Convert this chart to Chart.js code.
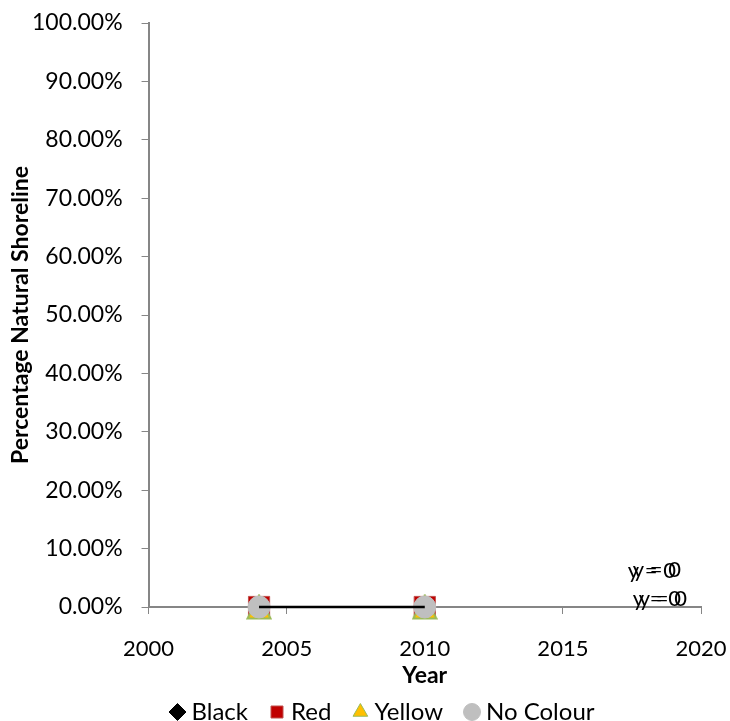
<!DOCTYPE html>
<html lang="en">
<head>
    <meta charset="UTF-8">
    <title>Percentage Natural Shoreline</title>
    <script src="https://cdn.jsdelivr.net/npm/chart.js"></script>
    <style>
        body {
            margin: 0;
            background-color: #ffffff;
        }
        #wrap {
            width: 730px;
            height: 721px;
        }
    </style>
</head>
<body>
    <div id="wrap">
        <canvas id="shoreChart" width="730" height="721"></canvas>
    </div>

    <script>
        // Dati
        const years = [2004, 2010];
        const black = [0, 0];
        const red = [0, 0];
        const yellow = [0, 0];
        const noColour = [0, 0];
        const seriesNames = ['Black', 'Red', 'Yellow', 'No Colour'];
        const trendLabels = ['y = 0', 'y = 0', 'y = 0', 'y = 0'];

        const FONT = 'Lato, "Liberation Sans", sans-serif';

        function toPoints(values) {
            return years.map((x, i) => ({ x: x, y: values[i] }));
        }

        // Triangolo centrato sul suo riquadro (come in Excel)
        const triImg = document.createElement('canvas');
        triImg.width = 26;
        triImg.height = 26;
        (function () {
            const c = triImg.getContext('2d');
            c.beginPath();
            c.moveTo(13, 1.5);
            c.lineTo(24.5, 24.5);
            c.lineTo(1.5, 24.5);
            c.closePath();
            c.fillStyle = '#FFC000';
            c.fill();
            c.lineWidth = 2;
            c.strokeStyle = '#9BBB59';
            c.stroke();
        })();

        // Etichette delle linee di tendenza (testo sovrapposto a destra)
        const trendPlugin = {
            id: 'trendLabels',
            afterDatasetsDraw(chart) {
                const ctx = chart.ctx;
                const xs = chart.scales.x;
                const ys = chart.scales.y;
                const offsets = [[0, -36], [5, -37], [5, -8], [11, -8]];
                ctx.save();
                ctx.font = '22px ' + FONT;
                ctx.fillStyle = '#000';
                ctx.textAlign = 'left';
                ctx.textBaseline = 'middle';
                trendLabels.forEach((t, i) => {
                    const px = xs.getPixelForValue(2017.35) + offsets[i][0];
                    const py = ys.getPixelForValue(0) + offsets[i][1];
                    ctx.fillText(t, px, py);
                });
                ctx.restore();
            }
        };

        // Sposta un po' la legenda verso destra
        const legendShift = {
            id: 'legendShift',
            afterLayout(chart) {
                if (chart.legend) {
                    chart.legend.left += 18;
                    chart.legend.right += 18;
                }
            }
        };

        const ctx = document.getElementById('shoreChart').getContext('2d');
        const shoreChart = new Chart(ctx, {
            type: 'scatter',
            data: {
                datasets: [
                    {
                        label: seriesNames[0],
                        data: toPoints(black),
                        showLine: false,
                        borderColor: '#000000',
                        backgroundColor: '#000000',
                        pointStyle: 'rectRot',
                        legendStyle: 'rectRot',
                        pointRadius: 7,
                        clip: false,
                        order: 5
                    },
                    {
                        label: seriesNames[1],
                        data: toPoints(red),
                        backgroundColor: '#C00000',
                        borderColor: '#C0504D',
                        borderWidth: 1,
                        pointStyle: 'rect',
                        legendStyle: 'rect',
                        pointRadius: 15,
                        clip: false,
                        order: 4
                    },
                    {
                        label: seriesNames[2],
                        data: toPoints(yellow),
                        backgroundColor: '#FFC000',
                        borderColor: '#9BBB59',
                        borderWidth: 2,
                        pointStyle: triImg,
                        legendStyle: 'triangle',
                        pointRadius: 13,
                        clip: false,
                        order: 3
                    },
                    {
                        label: seriesNames[3],
                        data: toPoints(noColour),
                        backgroundColor: '#BFBFBF',
                        borderColor: '#BFBFBF',
                        borderWidth: 1,
                        pointStyle: 'circle',
                        legendStyle: 'circle',
                        pointRadius: 11,
                        clip: false,
                        order: 2
                    },
                    {
                        // linea della serie Black, disegnata sopra i marcatori
                        label: '',
                        data: toPoints(black),
                        showLine: true,
                        borderColor: '#000000',
                        borderWidth: 2.5,
                        pointRadius: 0,
                        clip: false,
                        order: 1
                    }
                ]
            },
            options: {
                responsive: false,
                animation: false,
                layout: {
                    padding: { left: 4, right: 0, top: 5, bottom: -13 }
                },
                scales: {
                    x: {
                        type: 'linear',
                        min: 2000,
                        max: 2020,
                        afterFit: s => { s.paddingRight = 29; },
                        ticks: {
                            stepSize: 5,
                            color: '#000',
                            font: { family: FONT, size: 22 },
                            padding: 22,
                            callback: v => String(v)
                        },
                        grid: {
                            drawOnChartArea: false,
                            drawTicks: true,
                            tickLength: 7,
                            tickColor: '#868686'
                        },
                        border: { color: '#868686', width: 2 },
                        title: {
                            display: true,
                            text: 'Year',
                            color: '#000',
                            font: { family: FONT, size: 23, weight: 'bold' },
                            padding: { top: -23, bottom: -16 }
                        }
                    },
                    y: {
                        min: 0,
                        max: 1,
                        afterFit: s => { s.paddingTop = 23; },
                        ticks: {
                            stepSize: 0.1,
                            color: '#000',
                            font: { family: FONT, size: 23 },
                            padding: 19,
                            callback: v => (v * 100).toFixed(2) + '%'
                        },
                        grid: {
                            drawOnChartArea: false,
                            drawTicks: true,
                            tickLength: 7,
                            tickColor: '#868686'
                        },
                        border: { color: '#868686', width: 2 },
                        title: {
                            display: true,
                            text: 'Percentage Natural Shoreline',
                            color: '#000',
                            font: { family: FONT, size: 23, weight: 'bold' },
                            padding: { top: 3, bottom: -21.6 }
                        }
                    }
                },
                plugins: {
                    legend: {
                        position: 'bottom',
                        labels: {
                            usePointStyle: true,
                            boxWidth: 4,
                            boxHeight: 12,
                            color: '#000',
                            padding: 27,
                            font: { family: FONT, size: 24 },
                            filter: item => item.text !== '',
                            generateLabels(chart) {
                                return chart.data.datasets.map((ds, i) => ({
                                    text: ds.label,
                                    fillStyle: ds.backgroundColor,
                                    strokeStyle: ds.borderColor,
                                    lineWidth: 1,
                                    pointStyle: ds.legendStyle,
                                    fontColor: '#000',
                                    hidden: false,
                                    datasetIndex: i
                                }));
                            }
                        }
                    },
                    tooltip: { enabled: false }
                }
            },
            plugins: [trendPlugin, legendShift]
        });
    </script>
</body>
</html>
